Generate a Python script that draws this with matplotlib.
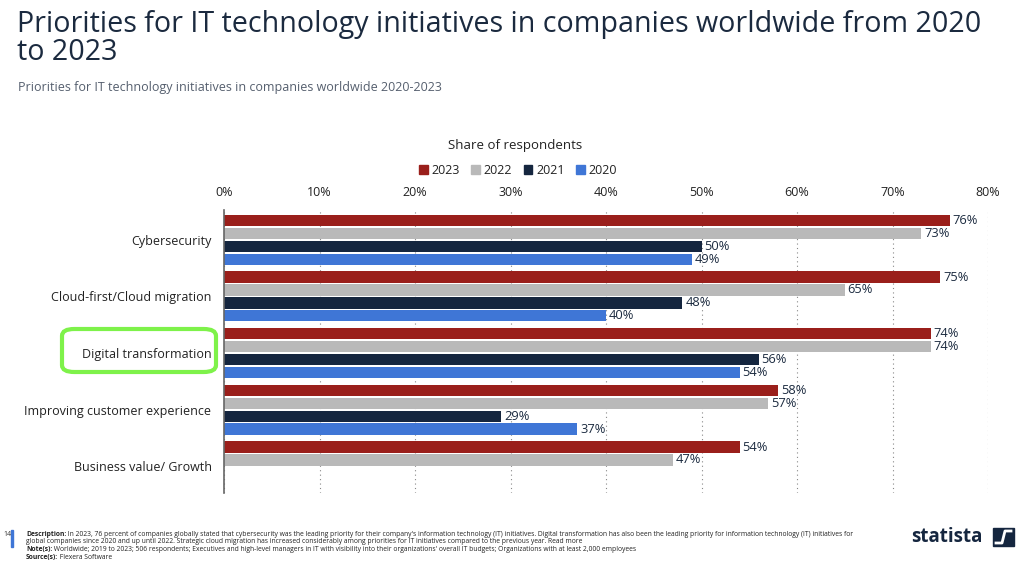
import matplotlib
matplotlib.use("Agg")
import matplotlib.pyplot as plt
from matplotlib.patches import FancyBboxPatch, Rectangle
from matplotlib.lines import Line2D
import numpy as np

plt.rcParams['font.family'] = ['Open Sans', 'DejaVu Sans']

categories = ["Cybersecurity", "Cloud-first/Cloud migration", "Digital transformation",
              "Improving customer experience", "Business value/ Growth"]
years = ["2023", "2022", "2021", "2020"]
v2023 = [76, 75, 74, 58, 54]
v2022 = [73, 65, 74, 57, 47]
v2021 = [50, 48, 56, 29, None]
v2020 = [49, 40, 54, 37, None]
series = [v2023, v2022, v2021, v2020]
colors = ["#9a1f1b", "#b9b9b9", "#15263f", "#3f76d6"]
xticks = [0, 10, 20, 30, 40, 50, 60, 70, 80]

fig = plt.figure(figsize=(10.24, 5.71), dpi=100)
ax = fig.add_axes([224/1024, 1-493/571, (988-224)/1024, (493-210)/571])

step = 0.228
h = 0.2
for k, (vals, col) in enumerate(zip(series, colors)):
    for i, v in enumerate(vals):
        if v is None:
            continue
        y = i + (k - 1.5) * step
        ax.barh(y, v, height=h, color=col, zorder=3)
        ax.text(v + 0.3, y, f"{v}%", va="center", ha="left", fontsize=9.3,
                color="#1b2a3f", zorder=4)

ax.set_xlim(0, 80)
ax.set_ylim(4.47, -0.526)
ax.set_xticks(xticks)
ax.set_xticklabels([f"{t}%" for t in xticks])
ax.xaxis.tick_top()
ax.tick_params(axis="x", length=0, pad=8, labelsize=9, labelcolor="#222222")
ax.set_yticks(range(len(categories)))
ax.set_yticklabels(categories)
ax.tick_params(axis="y", length=0, pad=9, labelsize=9, labelcolor="#222222")
ax.grid(axis="x", linestyle=(0, (1, 3)), color="#888888", linewidth=0.8, zorder=0)
for s in ["top", "right", "bottom"]:
    ax.spines[s].set_visible(False)
ax.spines["left"].set_color("#666666")
ax.spines["left"].set_linewidth(1.2)
ax.spines["left"].set_zorder(5)

# Highlight box
box = FancyBboxPatch((62/1024, 1-372/571), (216-62)/1024, (372-329)/571,
                     boxstyle="round,pad=0,rounding_size=0.012",
                     transform=fig.transFigure, fill=False,
                     edgecolor="#7ef24a", linewidth=3, zorder=10)
fig.patches.append(box)

# Titles
fig.text(17/1024, 1-32/571, "Priorities for IT technology initiatives in companies worldwide from 2020",
         fontsize=20.6, color="#1b2a3f", va="baseline", ha="left")
fig.text(17/1024, 1-60/571, "to 2023",
         fontsize=20.6, color="#1b2a3f", va="baseline", ha="left")
fig.text(18/1024, 1-88/571, "Priorities for IT technology initiatives in companies worldwide 2020-2023",
         fontsize=9, color="#555f6e", va="center", ha="left")

fig.text(515/1024, 1-145/571, "Share of respondents", fontsize=9.5, color="#222222",
         ha="center", va="center")

# Legend
handles = [Rectangle((0, 0), 1, 1, color=c) for c in colors]
leg = fig.legend(handles, years, loc="center", bbox_to_anchor=(518/1024, 1-170/571),
                 ncol=4, frameon=False, fontsize=9, handlelength=0.7, handleheight=0.7,
                 handletextpad=0.3, columnspacing=0.9)
for t in leg.get_texts():
    t.set_color("#222222")

# Footer
fig.patches.append(Rectangle((11/1024, 1-547/571), 2/1024, 17/571, transform=fig.transFigure,
                             color="#3f76d6"))
fig.text(3/1024, 1-534/571, "14", fontsize=5, color="#333333", va="center")
foot_lines = [
    ("Description:", " In 2023, 76 percent of companies globally stated that cybersecurity was the leading priority for their company's information technology (IT) initiatives. Digital transformation has also been the leading priority for information technology (IT) initiatives for"),
    ("", "global companies since 2020 and up until 2022. Strategic cloud migration has increased considerably among priorities for IT initiatives compared to the previous year. Read more"),
    ("Note(s):", " Worldwide; 2019 to 2023; 506 respondents; Executives and high-level managers in IT with visibility into their organizations' overall IT budgets; Organizations with at least 2,000 employees"),
    ("Source(s):", " Flexera Software"),
]
renderer = fig.canvas.get_renderer()
for j, (b, t) in enumerate(foot_lines):
    y = 1 - (534 + j * 7.7) / 571
    x0 = 26/1024
    if b:
        bt = fig.text(x0, y, b, fontsize=4.9, fontweight="bold", color="#222222",
                      va="center", ha="left")
        w = bt.get_window_extent(renderer).width / 1024
        x0 += w
    fig.text(x0, y, t, fontsize=4.9, color="#222222", va="center", ha="left")

fig.text(911/1024, 1-537/571, "statista", fontsize=13.5, fontweight="bold", color="#15263f",
         va="center", ha="left")
fig.patches.append(Rectangle((993/1024, 1-546/571), 21/1024, 18/571, transform=fig.transFigure,
                             color="#15263f"))
fig.lines.append(Line2D([996/1024, 1002/1024, 1005/1024, 1011/1024],
                        [1-543/571, 1-543/571, 1-531/571, 1-531/571],
                        transform=fig.transFigure, color="white", linewidth=2))

fig.savefig("out.png", dpi=100)
